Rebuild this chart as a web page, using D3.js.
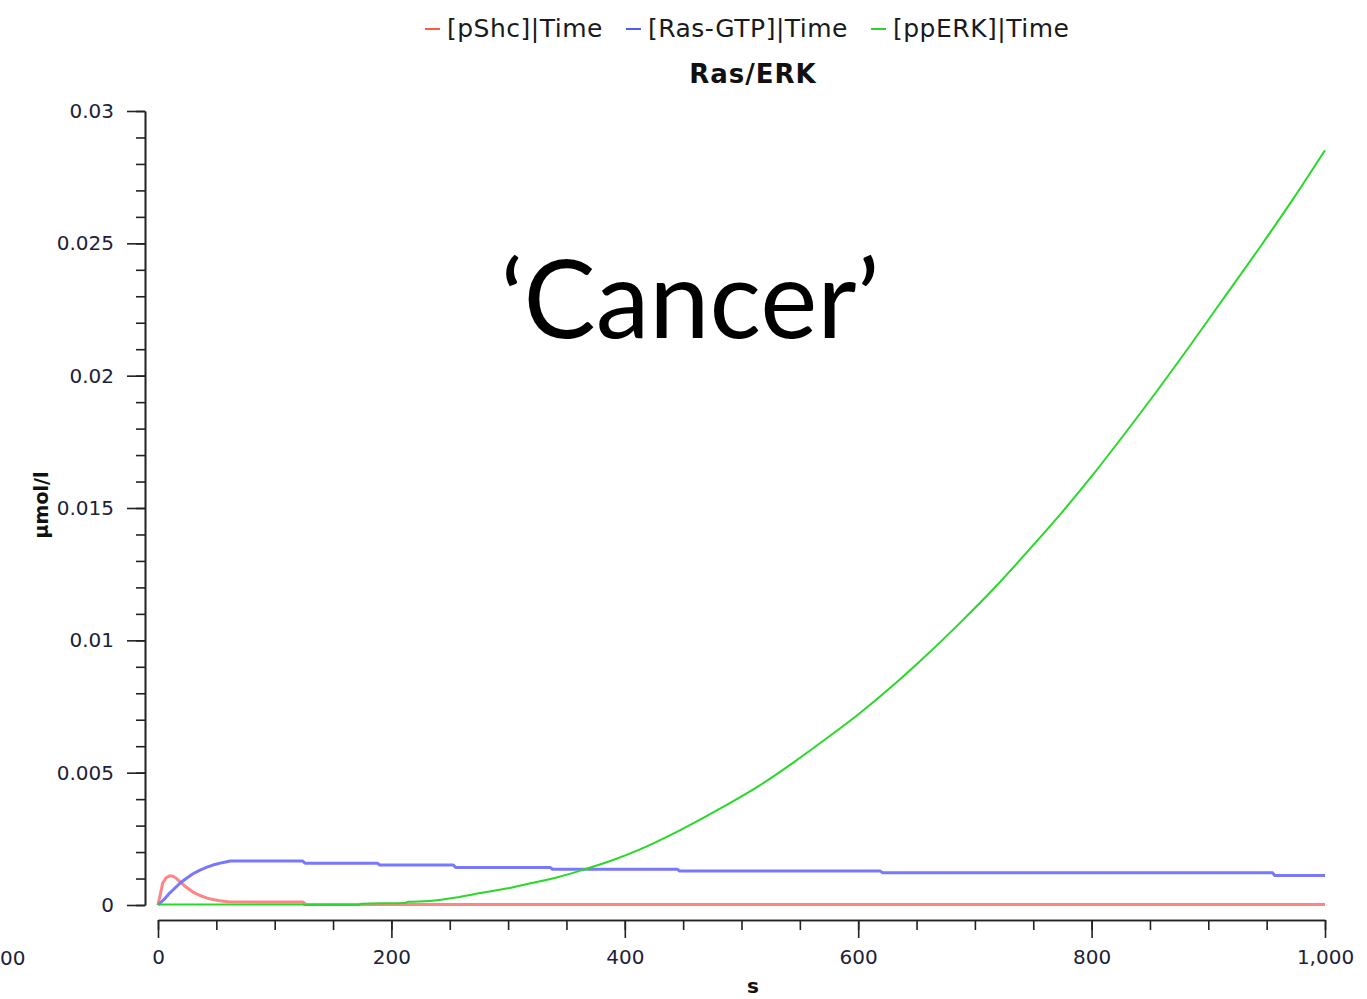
<!DOCTYPE html>
<html>
<head>
<meta charset="utf-8">
<script src="https://cdn.jsdelivr.net/npm/d3@7"></script>
<style>
  body { margin: 0; background: #fff; }
  .axis text { font-family: "DejaVu Sans", sans-serif; font-size: 20px; fill: #1c2238; }
  .axis path, .axis line { stroke: #222; stroke-width: 1.6; }
</style>
</head>
<body>
<div id="chart"></div>
<script>
// series data
var seriesNames = ["[pShc]|Time", "[Ras-GTP]|Time", "[ppERK]|Time"];
var seriesColors = ["#ff8484", "#7878ff", "#2ad82a"];
var legendColors = ["#ff5a3c", "#4a5cff", "#30d030"];

var pShcTime = [0, 2, 4, 7, 10, 12, 15, 19, 24, 30, 36, 42, 48, 53, 60, 124, 127, 1000];
var pShcVal = [0, 0.0004, 0.00083, 0.00103, 0.0011, 0.0011, 0.00103, 0.00087, 0.00068, 0.00049, 0.00036,
  0.00026, 0.0002, 0.00016, 0.00012, 0.00011, 0.00002, 0.00002];

var rasTime = [0, 5, 10, 15, 19, 25, 30, 36, 42, 47, 55, 62, 124, 126, 188, 190, 253, 255, 336, 338,
  445, 447, 619, 621, 955, 957, 1000];
var rasVal = [0, 0.0002, 0.00045, 0.00066, 0.00083, 0.00103, 0.00118, 0.00132, 0.00143, 0.00151, 0.0016,
  0.00166, 0.00166, 0.00158, 0.00158, 0.00151, 0.00151, 0.00142, 0.00142, 0.00135, 0.00135, 0.00128,
  0.00128, 0.00122, 0.00122, 0.00111, 0.00111];

var erkTime = [0, 124, 126, 172, 174, 212, 214, 233, 255, 276, 300, 319, 344, 362, 390, 413, 445, 480,
  516, 545, 573, 600, 630, 660, 687, 715, 744, 772, 801, 830, 859, 887, 916, 945, 973, 1000];
var erkVal = [0.00002, 0.00002, 0, 0, 0.00005, 0.00008, 0.00012, 0.00015, 0.00028, 0.00045, 0.00063,
  0.00082, 0.00107, 0.0013, 0.0017, 0.0021, 0.00277, 0.0036, 0.00453, 0.0054, 0.0063, 0.0072, 0.0083,
  0.0095, 0.01065, 0.0119, 0.0133, 0.0147, 0.01625, 0.0179, 0.0196, 0.0213, 0.0231, 0.0249, 0.0267, 0.02852];

// axis ticks
var xTicks = [0, 200, 400, 600, 800, 1000];
var xTickLabels = ["0", "200", "400", "600", "800", "1,000"];
var xMinorTicks = d3.range(0, 1001, 50);
var yTicks = [0, 0.005, 0.01, 0.015, 0.02, 0.025, 0.03];
var yTickLabels = ["0", "0.005", "0.01", "0.015", "0.02", "0.025", "0.03"];
var yMinorTicks = d3.range(0, 31).map(d => d / 1000);

// svg area
var svgWidth = 1367;
var svgHeight = 999;

var svg = d3.select("#chart")
  .append("svg")
  .attr("width", svgWidth)
  .attr("height", svgHeight);

// scales
var xScale = d3.scaleLinear().domain([0, 1000]).range([158, 1325]);
var yScale = d3.scaleLinear().domain([0, 0.03]).range([905, 111]);

// y axis (offset left of plot)
var yAxisX = 145;
svg.append("g")
  .attr("class", "axis")
  .attr("transform", `translate(${yAxisX}, 0)`)
  .call(d3.axisLeft(yScale).tickValues(yMinorTicks).tickSize(9).tickSizeOuter(0).tickFormat(""));
svg.append("g")
  .attr("class", "axis")
  .attr("transform", `translate(${yAxisX}, 0)`)
  .call(d3.axisLeft(yScale).tickValues(yTicks).tickSize(18).tickSizeOuter(0).tickPadding(13)
    .tickFormat((d, i) => yTickLabels[i]));

// x axis (offset below plot)
var xAxisY = 920;
svg.append("g")
  .attr("class", "axis")
  .attr("transform", `translate(0, ${xAxisY})`)
  .call(d3.axisBottom(xScale).tickValues(xMinorTicks).tickSize(10).tickSizeOuter(0).tickFormat(""));
svg.append("g")
  .attr("class", "axis")
  .attr("transform", `translate(0, ${xAxisY})`)
  .call(d3.axisBottom(xScale).tickValues(xTicks).tickSize(18).tickSizeOuter(0).tickPadding(12)
    .tickFormat((d, i) => xTickLabels[i]));

// stray label fragment at the left edge
svg.append("text")
  .attr("x", 0)
  .attr("y", 965)
  .style("font-family", "DejaVu Sans, sans-serif")
  .style("font-size", "20px")
  .style("fill", "#1c2238")
  .text("00");

// axis titles
svg.append("text")
  .attr("transform", "translate(48, 505) rotate(-90)")
  .attr("text-anchor", "middle")
  .style("font-family", "DejaVu Sans, sans-serif")
  .style("font-size", "19px")
  .style("font-weight", "bold")
  .style("fill", "#111")
  .text("μmol/l");

svg.append("text")
  .attr("x", 753)
  .attr("y", 993)
  .attr("text-anchor", "middle")
  .style("font-family", "DejaVu Sans, sans-serif")
  .style("font-size", "20px")
  .style("font-weight", "bold")
  .style("fill", "#111")
  .text("s");

// lines
var line = d3.line()
  .x(d => xScale(d[0]))
  .y(d => yScale(d[1]));

var smoothLine = d3.line()
  .x(d => xScale(d[0]))
  .y(d => yScale(d[1]))
  .curve(d3.curveMonotoneX);

var seriesData = [
  d3.zip(pShcTime, pShcVal),
  d3.zip(rasTime, rasVal),
  d3.zip(erkTime, erkVal)
];

svg.selectAll(".series")
  .data(seriesData)
  .enter()
  .append("path")
  .attr("class", "series")
  .attr("d", (d, i) => i === 2 ? smoothLine(d) : line(d))
  .attr("fill", "none")
  .attr("stroke", (d, i) => seriesColors[i])
  .attr("stroke-width", (d, i) => i === 2 ? 2 : 3)
  .attr("stroke-linejoin", "round");

// legend
var legendX = 425;
var legend = svg.append("g");
seriesNames.forEach(function(name, i) {
  legend.append("line")
    .attr("x1", legendX)
    .attr("x2", legendX + 15)
    .attr("y1", 29)
    .attr("y2", 29)
    .attr("stroke", legendColors[i])
    .attr("stroke-width", 2);
  var t = legend.append("text")
    .attr("x", legendX + 22)
    .attr("y", 37)
    .style("font-family", "DejaVu Sans, sans-serif")
    .style("font-size", "25px")
    .style("letter-spacing", "0.5px")
    .style("fill", "#1a1a1a")
    .text(name);
  legendX += 22 + t.node().getComputedTextLength() + 23;
});

// chart title
svg.append("text")
  .attr("x", 753)
  .attr("y", 83)
  .attr("text-anchor", "middle")
  .style("font-family", "DejaVu Sans, sans-serif")
  .style("font-size", "26px")
  .style("font-weight", "bold")
  .style("letter-spacing", "1px")
  .style("fill", "#111")
  .text("Ras/ERK");

// big annotation
svg.append("text")
  .attr("x", 690)
  .attr("y", 338)
  .attr("text-anchor", "middle")
  .style("font-family", "Lato, sans-serif")
  .style("font-size", "108px")
  .style("fill", "#000")
  .text("‘Cancer’");
</script>
</body>
</html>
